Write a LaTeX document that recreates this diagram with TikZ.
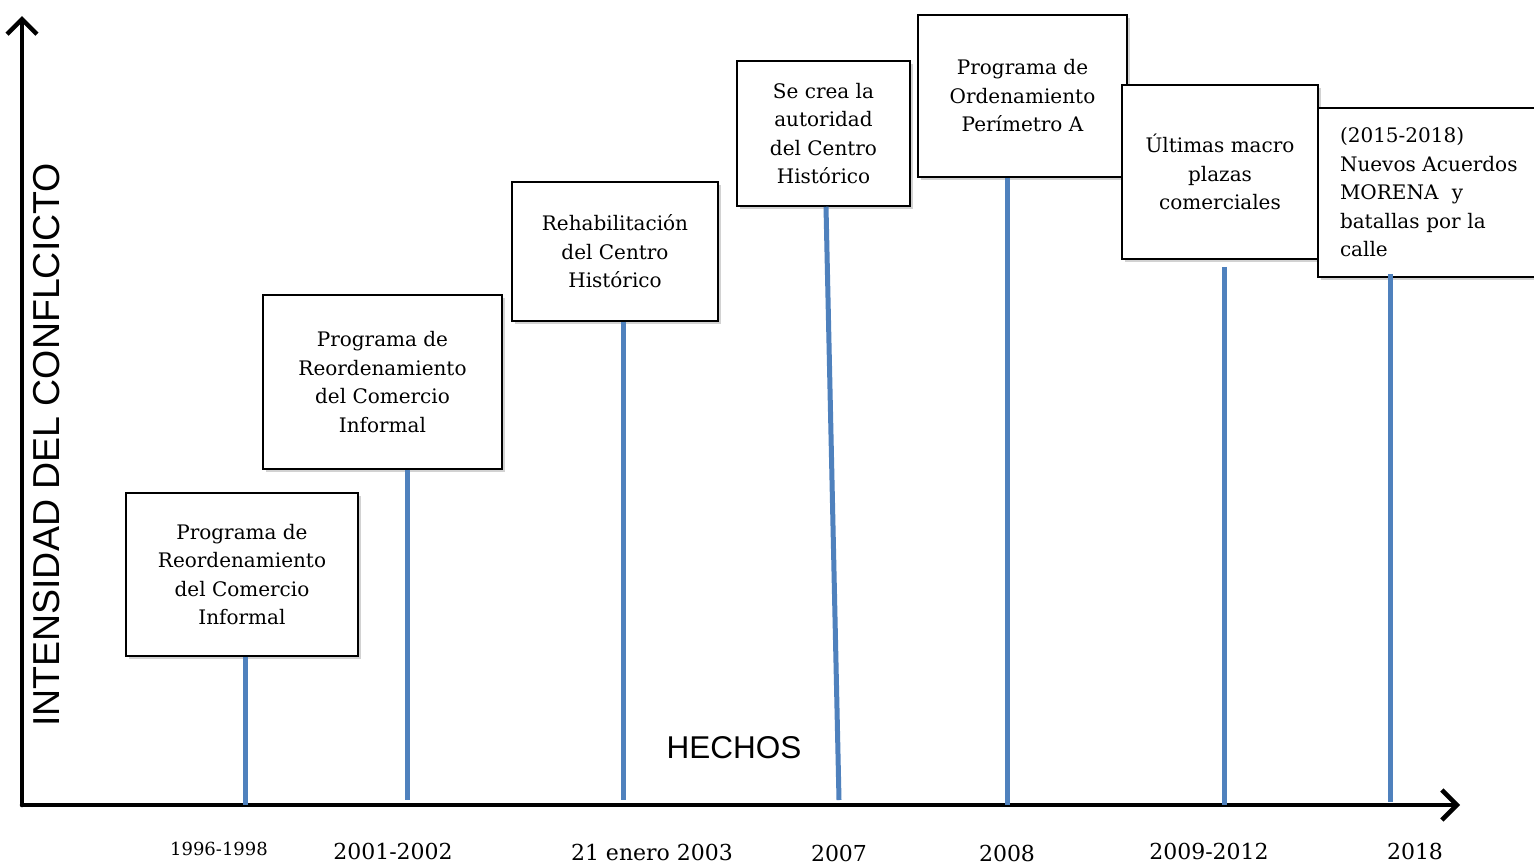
\documentclass[tikz,border=0pt]{standalone}
\usepackage{fontspec}
\setmainfont{DejaVu Serif}
\newfontfamily\ejefont{Liberation Sans}
\usepackage{xcolor}
\usetikzlibrary{arrows.meta,shadows}

\definecolor{hechoazul}{RGB}{79,129,189}

\tikzset{
  evento/.style={draw=black, line width=1.5pt, fill=white, align=center,
    font=\fontsize{20}{28.5}\selectfont, inner sep=0pt,
    drop shadow={shadow xshift=2.5pt, shadow yshift=-3pt, opacity=0.35}},
  hecho/.style={hechoazul, line width=5pt},
  eje/.style={line width=4.5pt, line cap=round, -{Straight Barb[length=15pt, width=30pt, line width=4.5pt]}},
  fecha/.style={font=\fontsize{22}{26}\selectfont, anchor=center}
}

\begin{document}
\begin{tikzpicture}[x=1pt, y=-1pt]
    \clip (0,0) rectangle (1534,865);
    \fill[white] (0,0) rectangle (1534,865);

    % ejes
    \coordinate (o) at (22,805);
    \coordinate (arriba) at (22,16);
    \coordinate (derecha) at (1460,805);
    \draw[eje] (o) -- (arriba);
    \draw[eje] (o) -- (derecha);

    \node[font=\ejefont\fontsize{37.5}{42}\selectfont, rotate=90] (vert) at (47,445) {INTENSIDAD DEL CONFLCICTO};
    \node[font=\ejefont\fontsize{31.5}{36}\selectfont] (hechos) at (734,748) {HECHOS};

    % puntos sobre el eje
    \coordinate (t1) at (245,805);
    \coordinate (t2) at (407,800);
    \coordinate (t3) at (623,800);
    \coordinate (t4) at (839,800);
    \coordinate (t5) at (1007,805);
    \coordinate (t6) at (1224,805);
    \coordinate (t7) at (1390,802);

    % cajas
    \node[evento, minimum width=232pt, minimum height=163pt] (prog1) at (242,574.5)
        {Programa de\\Reordenamiento\\del Comercio\\Informal};
    \node[evento, minimum width=239pt, minimum height=174pt] (prog2) at (382.5,382)
        {Programa de\\Reordenamiento\\del Comercio\\Informal};
    \node[evento, minimum width=206pt, minimum height=139pt] (rehab) at (615,251.5)
        {Rehabilitación\\del Centro\\Histórico};
    \node[evento, minimum width=173pt, minimum height=145pt] (crea) at (823.5,133.5)
        {Se crea la\\autoridad\\del Centro\\Histórico};
    \node[evento, minimum width=209pt, minimum height=162pt] (orden) at (1022.5,96)
        {Programa de\\Ordenamiento\\Perímetro A};
    \node[evento, minimum width=196pt, minimum height=174pt] (plazas) at (1220,172)
        {Últimas macro\\plazas\\comerciales};
    \node[evento, minimum width=230pt, minimum height=169pt, align=left,
        text width=186pt] (morena) at (1433,192.5)
        {(2015-2018)\\Nuevos Acuerdos\\MORENA~ y\\batallas por la\\calle};

    % lineas
    \draw[hecho] (prog1.south -| t1) -- (t1);
    \draw[hecho] (prog2.south -| t2) -- (t2);
    \draw[hecho] (rehab.south -| t3) -- (t3);
    \draw[hecho] ([xshift=2.5pt]crea.south) -- (t4);
    \draw[hecho] (orden.south -| t5) -- (t5);
    \draw[hecho] ([yshift=-7pt]plazas.south -| t6) -- (t6);
    \draw[hecho] ([yshift=4pt]morena.south -| t7) -- (t7);

    % fechas
    \node[fecha, font=\fontsize{18}{22}\selectfont] (f1) at (219,849) {1996-1998};
    \node[fecha] (f2) at (393,851) {2001-2002};
    \node[fecha] (f3) at (652,852) {21 enero 2003};
    \node[fecha] (f4) at (839,853) {2007};
    \node[fecha] (f5) at (1007,853) {2008};
    \node[fecha] (f6) at (1209,851) {2009-2012};
    \node[fecha] (f7) at (1415,851) {2018};
\end{tikzpicture}
\end{document}
